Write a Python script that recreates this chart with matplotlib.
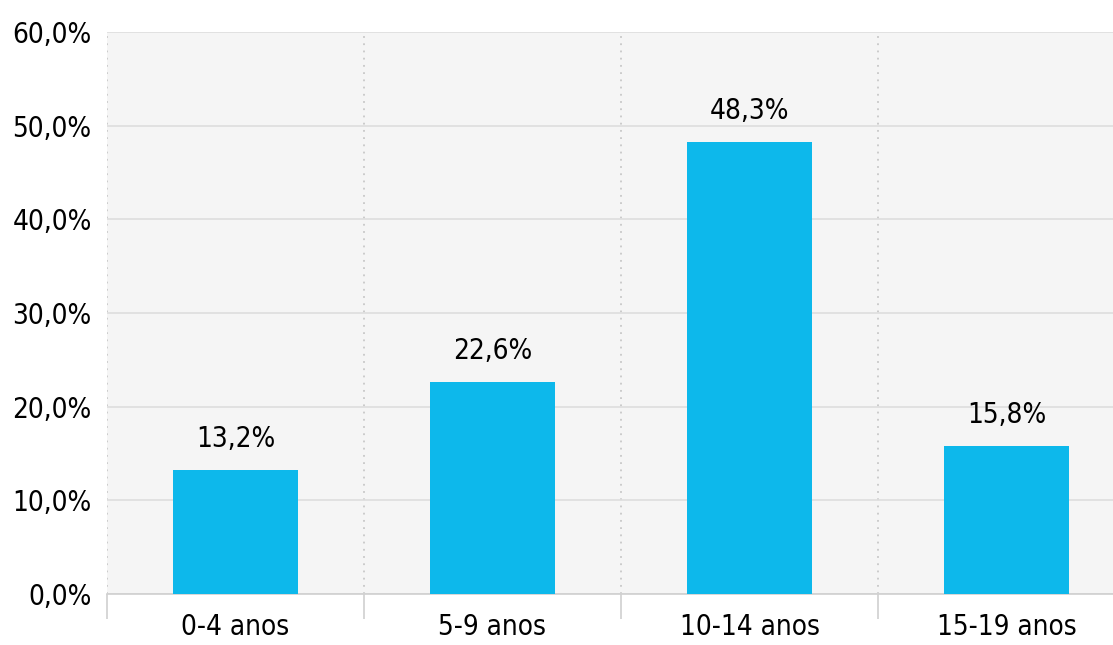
import matplotlib
matplotlib.use("Agg")
import matplotlib.pyplot as plt
from matplotlib.ticker import MultipleLocator, FuncFormatter

categories = ["0-4 anos", "5-9 anos", "10-14 anos", "15-19 anos"]
values = [13.2, 22.6, 48.3, 15.8]

plt.rcParams['font.family'] = ['DejaVu Sans']
plt.rcParams['font.stretch'] = 'condensed'

fig = plt.figure(figsize=(11.13, 6.45), dpi=100)
ax = fig.add_axes([107/1113, 1 - 594/645, (1113-107)/1113, (594-32)/645])
ax.set_facecolor("#f5f5f5")

x = list(range(len(categories)))
bars = ax.bar(x, values, width=0.49, color="#0db8eb", zorder=3)
for xi, v in zip(x, values):
    ax.text(xi, v + 1.8, f"{v:.1f}%".replace(".", ","), ha="center", va="bottom",
            fontsize=20, color="#000000", fontstretch='condensed')

ax.set_ylim(0, 60)
ax.set_xlim(-0.5, (1113-107)/257 - 0.5)
ax.yaxis.set_major_locator(MultipleLocator(10))
ax.yaxis.set_major_formatter(FuncFormatter(lambda v, p: f"{v:.1f}%".replace(".", ",")))
ax.grid(axis="y", color="#dddddd", linewidth=1.2, zorder=0)
for b in [-0.5, 0.5, 1.5, 2.5]:
    ax.axvline(b, color="#c8c8c8", linestyle=(0, (1, 3)), linewidth=1.3, zorder=1)

ax.set_xticks(x)
ax.set_xticklabels(categories)
ax.tick_params(axis="x", length=0, pad=14, labelsize=20)
ax.tick_params(axis="y", length=0, pad=11, labelsize=20)
for lbl in ax.get_xticklabels() + ax.get_yticklabels():
    lbl.set_fontstretch('condensed')
    lbl.set_color("#000000")

# boundary ticks below axis
ax.set_xticks([-0.5, 0.5, 1.5, 2.5], minor=True)
ax.tick_params(axis="x", which="minor", length=18, width=1.2, color="#d0d0d0")

for s in ["top", "right", "left"]:
    ax.spines[s].set_visible(False)
ax.spines["bottom"].set_color("#d0d0d0")
ax.spines["bottom"].set_linewidth(1.2)

fig.savefig("out.png", dpi=100, facecolor="white")
